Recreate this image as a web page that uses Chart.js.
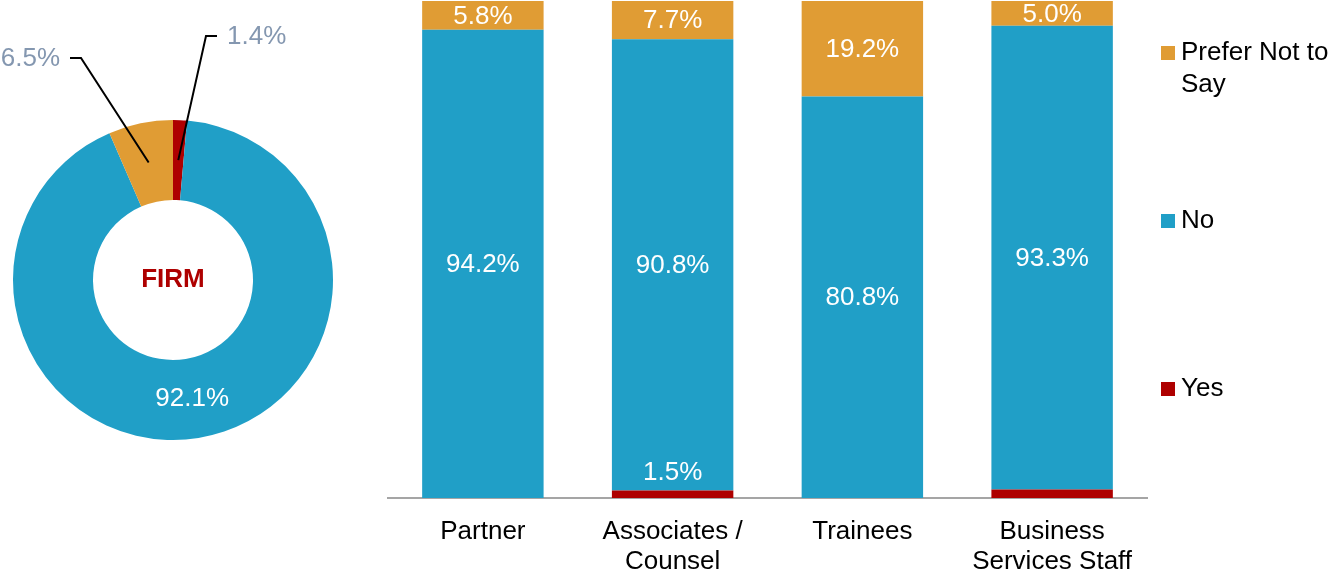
<!DOCTYPE html>
<html>
<head>
<meta charset="utf-8">
<script src="https://cdn.jsdelivr.net/npm/chart.js@4.4.0/dist/chart.umd.min.js"></script>
<style>
    body { margin: 0; background: #fff; width: 1328px; height: 577px; overflow: hidden; position: relative; }
    canvas { position: absolute; top: 0; }
    #firm { left: 0; }
    #groups { left: 360px; }
</style>
</head>
<body>
<canvas id="firm" width="346" height="577"></canvas>
<canvas id="groups" width="968" height="577"></canvas>
<script>
const seriesNames = ["Yes", "No", "Prefer Not to Say"];
const seriesColours = ["#AE0000", "#209FC7", "#E09C34"];

// whole firm split (doughnut)
const firmValues = [1.4, 92.1, 6.5];

// split by staff group (stacked bars)
const groupLabels = ["Partner", ["Associates /", "Counsel"], "Trainees", ["Business", "Services Staff"]];
const yesValues = [0, 1.5, 0, 1.7];
const noValues = [94.2, 90.8, 80.8, 93.3];
const preferValues = [5.8, 7.7, 19.2, 5.0];
const yesLabelShown = [false, true, false, false];

const FONT = "'Liberation Sans', Arial, sans-serif";

// small slices get a leader line out to a label above the ring
const callouts = {
    0: { dx: 33, dy: -244, dir: 1 },
    2: { dx: -92, dy: -222, dir: -1 }
};

const firmLabels = {
    id: "firmLabels",
    afterDraw(chart) {
        const ctx = chart.ctx;
        const arcs = chart.getDatasetMeta(0).data;
        const cx = arcs[0].x, cy = arcs[0].y;
        ctx.save();
        ctx.textAlign = "center";
        ctx.textBaseline = "middle";
        ctx.font = "bold 26px " + FONT;
        ctx.fillStyle = "#AE0000";
        ctx.fillText("FIRM", cx, cy);

        ctx.font = "26px " + FONT;
        arcs.forEach((arc, i) => {
            const mid = (arc.startAngle + arc.endAngle) / 2;
            const r = (arc.innerRadius + arc.outerRadius) / 2;
            const px = cx + Math.cos(mid) * r;
            const py = cy + Math.sin(mid) * r;
            const text = firmValues[i].toFixed(1) + "%";
            const c = callouts[i];
            if (!c) {
                ctx.fillStyle = "#fff";
                ctx.textAlign = "center";
                ctx.fillText(text, px, py);
                return;
            }
            const ex = cx + c.dx, ey = cy + c.dy;
            ctx.strokeStyle = "#000";
            ctx.lineWidth = 2;
            ctx.beginPath();
            ctx.moveTo(px, py);
            ctx.lineTo(ex, ey);
            ctx.lineTo(ex + c.dir * 11, ey);
            ctx.stroke();
            ctx.fillStyle = "#8497B0";
            ctx.textAlign = c.dir > 0 ? "left" : "right";
            ctx.fillText(text, ex + c.dir * 21, ey + 1);
        });
        ctx.restore();
    }
};

function wrapText(ctx, text, maxWidth) {
    const words = text.split(" ");
    const lines = [];
    let line = "";
    words.forEach(w => {
        const test = line ? line + " " + w : w;
        if (line && ctx.measureText(test).width > maxWidth) {
            lines.push(line);
            line = w;
        } else {
            line = test;
        }
    });
    lines.push(line);
    return lines;
}

const barLabels = {
    id: "barLabels",
    afterDraw(chart) {
        const ctx = chart.ctx;
        ctx.save();
        ctx.font = "26px " + FONT;
        ctx.fillStyle = "#fff";
        ctx.textAlign = "center";
        ctx.textBaseline = "middle";
        chart.data.datasets.forEach((ds, d) => {
            chart.getDatasetMeta(d).data.forEach((bar, i) => {
                const v = ds.data[i];
                if (!v) return;
                const text = v.toFixed(1) + "%";
                if (d === 0) {
                    if (yesLabelShown[i]) ctx.fillText(text, bar.x, bar.y - 18);
                    return;
                }
                ctx.fillText(text, bar.x, (bar.y + bar.base) / 2 + 1);
            });
        });

        // legend, top series first
        const area = chart.chartArea;
        const x = area.right + 14;
        let y = 53;
        ctx.textAlign = "left";
        const items = chart.data.datasets.slice().reverse();
        items.forEach(ds => {
            ctx.fillStyle = ds.backgroundColor;
            ctx.fillRect(x, y - 7, 14, 14);
            ctx.fillStyle = "#000";
            wrapText(ctx, ds.label, 150).forEach((line, k) => {
                ctx.fillText(line, x + 20, y + k * 32);
            });
            y += 168;
        });
        ctx.restore();
    }
};

new Chart(document.getElementById("firm"), {
    type: "doughnut",
    data: {
        labels: seriesNames,
        datasets: [{
            data: firmValues,
            backgroundColor: seriesColours,
            borderWidth: 0,
            hoverOffset: 0
        }]
    },
    options: {
        responsive: false,
        animation: false,
        events: [],
        cutout: "50%",
        layout: { padding: { left: 13, right: 13, top: 120, bottom: 137 } },
        plugins: {
            legend: { display: false },
            tooltip: { enabled: false }
        }
    },
    plugins: [firmLabels]
});

new Chart(document.getElementById("groups"), {
    type: "bar",
    data: {
        labels: groupLabels,
        datasets: [
            { label: seriesNames[0], data: yesValues, backgroundColor: seriesColours[0] },
            { label: seriesNames[1], data: noValues, backgroundColor: seriesColours[1] },
            { label: seriesNames[2], data: preferValues, backgroundColor: seriesColours[2] }
        ]
    },
    options: {
        responsive: false,
        animation: false,
        events: [],
        categoryPercentage: 0.8,
        barPercentage: 0.8,
        layout: { padding: { left: 28, right: 181, top: 1, bottom: 0 } },
        scales: {
            x: {
                stacked: true,
                grid: { display: false, drawTicks: false },
                border: { display: true, color: "#A5A5A5", width: 2 },
                ticks: {
                    color: "#000",
                    font: { family: FONT, size: 26, lineHeight: 1.15 },
                    padding: 19,
                    maxRotation: 0,
                    autoSkip: false
                },
                afterFit(scale) { scale.height = 79; }
            },
            y: {
                stacked: true,
                display: false,
                min: 0,
                max: 100
            }
        },
        plugins: {
            legend: { display: false },
            tooltip: { enabled: false }
        }
    },
    plugins: [barLabels]
});
</script>
</body>
</html>
